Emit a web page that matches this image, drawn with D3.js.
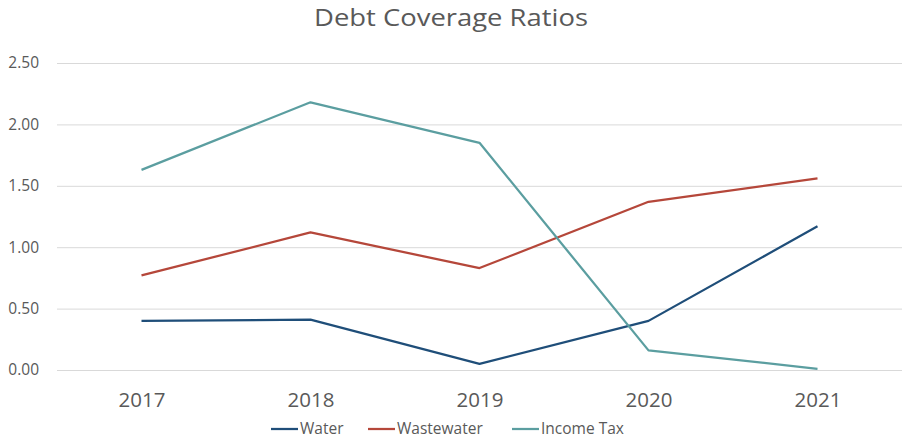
<!DOCTYPE html>
<html>
<head>
<meta charset="utf-8">
<script src="https://cdn.jsdelivr.net/npm/d3@7/dist/d3.min.js"></script>
<style>
  html, body { margin: 0; padding: 0; background: #fff; }
  svg { display: block; font-family: "Open Sans", "Liberation Sans", sans-serif; }
</style>
</head>
<body>
<svg id="chart" width="902" height="438"></svg>
<script>
// Fiscal years on the category axis
const years = ["2017", "2018", "2019", "2020", "2021"];

// Debt coverage ratio per fund
const water      = [0.40, 0.41, 0.05, 0.40, 1.17];
const wastewater = [0.77, 1.12, 0.83, 1.37, 1.56];
const incomeTax  = [1.63, 2.18, 1.85, 0.16, 0.01];

const seriesNames = ["Water", "Wastewater", "Income Tax"];
const seriesColors = ["#1f4e79", "#b5473a", "#5b9ea0"];
const yTicks = [0, 0.5, 1, 1.5, 2, 2.5];

const series = [water, wastewater, incomeTax].map((values, i) => ({
  name: seriesNames[i],
  color: seriesColors[i],
  values
}));

const svg = d3.select("#chart");
const W = 902, H = 438;
const plot = { left: 57, right: 902, top: 63, bottom: 370 };
const textColor = "#595959";
const font = "\"Open Sans\", \"Liberation Sans\", sans-serif";

const x = d3.scalePoint()
  .domain(years)
  .range([plot.left, plot.right])
  .padding(0.5);

const y = d3.scaleLinear()
  .domain([0, 2.5])
  .range([plot.bottom, plot.top]);

// Title
svg.append("text")
  .attr("x", W / 2)
  .attr("y", 26)
  .attr("text-anchor", "middle")
  .attr("fill", textColor)
  .attr("font-size", 23)
  .attr("textLength", 274)
  .attr("lengthAdjust", "spacingAndGlyphs")
  .text("Debt Coverage Ratios");

// Horizontal gridlines with value labels
const yAxis = d3.axisLeft(y)
  .tickValues(yTicks)
  .tickSize(-(plot.right - plot.left))
  .tickPadding(18)
  .tickFormat(d3.format(".2f"));

const gy = svg.append("g")
  .attr("transform", `translate(${plot.left},0)`)
  .call(yAxis);
gy.select(".domain").remove();
gy.selectAll(".tick line").attr("stroke", "#d9d9d9").attr("stroke-width", 1);
gy.selectAll(".tick text")
  .attr("fill", textColor)
  .attr("font-size", 15.5)
  .attr("font-family", font);

// Category labels
const xAxis = d3.axisBottom(x).tickSize(0).tickPadding(22);
const gx = svg.append("g")
  .attr("transform", `translate(0,${plot.bottom})`)
  .call(xAxis);
gx.select(".domain").remove();
gx.selectAll(".tick text")
  .attr("fill", textColor)
  .attr("font-size", 20.5)
  .attr("font-family", font);

// Series lines
const line = d3.line()
  .x((d, i) => x(years[i]))
  .y(d => y(d));

svg.append("g")
  .selectAll("path")
  .data(series)
  .join("path")
  .attr("d", d => line(d.values))
  .attr("fill", "none")
  .attr("stroke", d => d.color)
  .attr("stroke-width", 2.25)
  .attr("stroke-linejoin", "round");

// Legend
const legendX = [271, 368, 512];
const legend = svg.append("g")
  .selectAll("g")
  .data(series)
  .join("g")
  .attr("transform", (d, i) => `translate(${legendX[i]},429)`);

legend.append("line")
  .attr("x1", 0).attr("x2", 27)
  .attr("y1", 0).attr("y2", 0)
  .attr("stroke", d => d.color)
  .attr("stroke-width", 2.25);

legend.append("text")
  .attr("x", 29)
  .attr("y", 5)
  .attr("fill", textColor)
  .attr("font-size", 15.5)
  .text(d => d.name);
</script>
</body>
</html>
